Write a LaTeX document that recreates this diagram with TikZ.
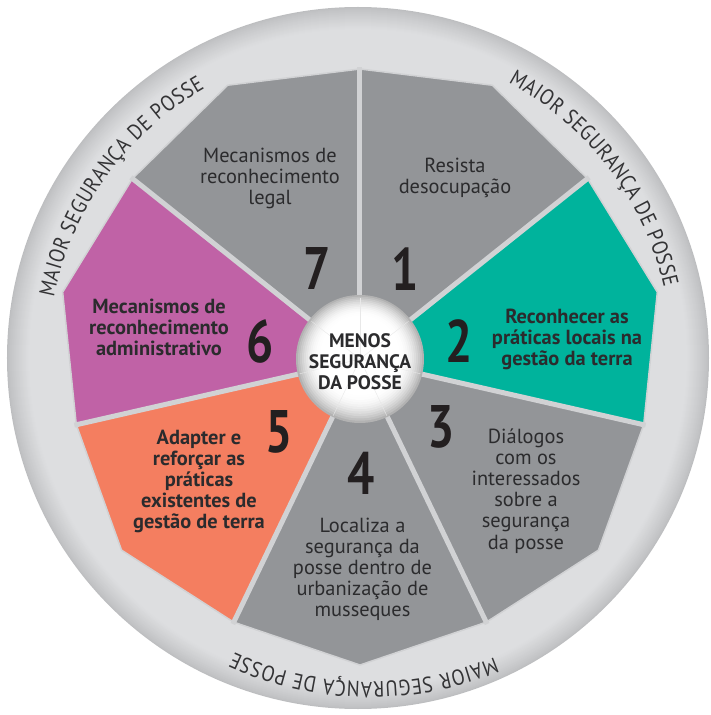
\documentclass[tikz,border=0pt]{standalone}
\usepackage{fontspec}
\usepackage{graphicx}
\setmainfont{PT Sans}
\newfontfamily\rngfam{PT Sans}[FakeStretch=0.87]
\usetikzlibrary{decorations.text,calc}
\definecolor{segGray}{HTML}{939598}
\definecolor{segTeal}{HTML}{00B39C}
\definecolor{segPurple}{HTML}{C062A6}
\definecolor{segOrange}{HTML}{F47E60}
\definecolor{sepc}{HTML}{D1D2D4}
\definecolor{ringin}{HTML}{DDDEE0}
\definecolor{ringout}{HTML}{BDBEC0}
\definecolor{txt}{HTML}{2B2B2D}
\definecolor{numc}{HTML}{231F20}
\definecolor{ringtxt}{HTML}{333335}
\newcommand\rngfont{\rngfam\fontsize{22}{22}\selectfont\color{ringtxt}}
\begin{document}
\begin{tikzpicture}[x=1pt,y=1pt,
  body/.style={align=center, inner sep=0pt, text=txt, font=\fontsize{20.4}{21.2}\selectfont},
  bodybold/.style={body, font=\fontsize{20.4}{21.2}\selectfont\bfseries},
  centertxt/.style={body, font=\fontsize{19.5}{21}\selectfont\bfseries},
  num/.style={inner sep=0pt, text=numc, font=\fontsize{60}{60}\selectfont\bfseries},
  ringtext/.style={decorate, decoration={text along path, text align=fit to path, text={|\rngfont|MAIOR SEGURANÇA DE POSSE}}}
]
\useasboundingbox (-360,-355) rectangle (351,360);
\coordinate (C) at (-2,2);
\coordinate (Cb) at (10,2);
\coordinate (O) at (0,0);
% outer ring with darker rim
\foreach \i in {0,...,22}{
  \pgfmathsetmacro\pc{100*(\i/22)^0.8}
  \fill[ringin!\pc!ringout] (C) circle[radius=351-\i];
}
% ring texts
\path[ringtext] ($(C)+(168.8:310)$) arc[start angle=168.8, end angle=119.6, radius=310];
\path[ringtext] ($(C)+(61.4:314)$) arc[start angle=61.4, end angle=13.0, radius=314];
\path[ringtext] ($(Cb)+(-67.4:324)$) arc[start angle=-67.4, end angle=-114.8, radius=324];
% segments
\foreach \k/\col in {0/segGray,1/segTeal,2/segGray,3/segGray,4/segOrange,5/segPurple,6/segGray}{
  \pgfmathsetmacro\aa{90-\k*360/7}
  \pgfmathsetmacro\bb{90-(\k+1)*360/7}
  \pgfmathsetmacro\mm{(\aa+\bb)/2}
  \fill[\col] (O) -- (\aa:291) -- (\mm:305) -- (\bb:291) -- cycle;
  \draw[sepc, line width=1.5pt, line join=round] (\aa:291) -- (\mm:305) -- (\bb:291);
}
\foreach \k in {0,...,6}{
  \draw[sepc, line width=5pt] (O) -- ({90-\k*360/7}:293);
}
% centre ball
\foreach \i in {0,...,32}{
  \pgfmathsetmacro\dd{\i<12 ? 30*(1-\i/12)^2 : 0}
  \fill[black!\dd!white] ($(0,1)+(0,0.3*\i)$) circle[radius=64-2*\i];
}
\foreach \k in {0,...,6}{
  \draw[black!9, line width=0.4pt] (0,1) -- ({90-\k*360/7}:62);
}
% texts
\node[centertxt] (centre) at (0,-3.8) {\strut MENOS\\SEGURANÇA\\DA POSSE\strut};
\node[body] (t7) at (-90,181) {\strut Mecanismos de\\reconhecimento\\legal\strut};
\node[body] (t1) at (95,181.6) {\strut Resista\\desocupação\strut};
\node[bodybold] (t2) at (207,20) {\strut Reconhecer as\\práticas locais na\\gestão da terra\strut};
\node[body] (t3) at (166,-131.8) {\strut Diálogos\\com os\\interessados\\sobre a\\segurança\\da posse\strut};
\node[body] (t4) at (2.5,-210.2) {\strut Localiza a\\segurança da\\posse dentro de\\urbanização de\\musseques\strut};
\node[bodybold] (t5) at (-161,-122.2) {\strut Adapter e\\reforçar as\\práticas\\existentes de\\gestão de terra\strut};
\node[bodybold] (t6) at (-201,30) {\strut Mecanismos de\\reconhecimento\\administrativo\strut};
% numbers
\node[num] (n7) at (-43,91) {\scalebox{0.8}[1]{7}};
\node[num] (n1) at (45,91) {\scalebox{0.8}[1]{1}};
\node[num] (n2) at (99,19) {\scalebox{0.8}[1]{2}};
\node[num] (n3) at (81,-67) {\scalebox{0.8}[1]{3}};
\node[num] (n4) at (1,-113) {\scalebox{0.8}[1]{4}};
\node[num] (n5) at (-81,-72) {\scalebox{0.8}[1]{5}};
\node[num] (n6) at (-100,19) {\scalebox{0.8}[1]{6}};
\end{tikzpicture}
\end{document}
